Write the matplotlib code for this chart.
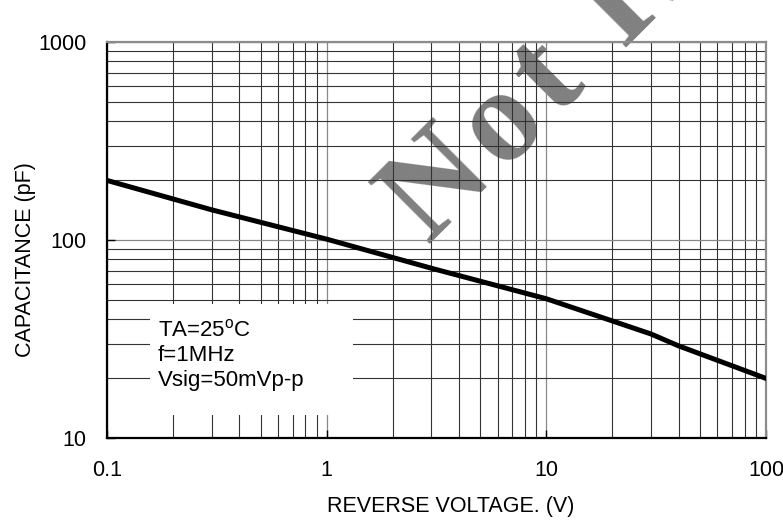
import numpy as np
import matplotlib
matplotlib.use('Agg')
import matplotlib.pyplot as plt
from matplotlib.patches import Rectangle
from matplotlib.ticker import LogLocator, FixedLocator, NullFormatter
from matplotlib.font_manager import FontProperties, findfont, get_font

plt.rcParams['font.family'] = ['Liberation Sans', 'DejaVu Sans']
plt.rcParams['mathtext.fontset'] = 'custom'
plt.rcParams['mathtext.rm'] = 'Liberation Sans'

# curve (reverse voltage in V, capacitance in pF)
voltage = [0.1, 0.3, 1, 3, 10, 20, 30, 40, 100]
capacitance = [200, 142, 101, 72, 50.5, 39.0, 33.5, 29.2, 20]

x_ticks = [0.1, 1, 10, 100]
x_labels = ['0.1', '1', '10', '100']
y_ticks = [10, 100, 1000]
y_labels = ['10', '100', '1000']

notes = ['TA=25$^{\\mathrm{o}}$C', 'f=1MHz', 'Vsig=50mVp-p']
watermark = 'Not Recommended'

W, H, DPI = 783, 524, 100
fig = plt.figure(figsize=(W / DPI, H / DPI), dpi=DPI)
ax = fig.add_axes([0.1367, 0.1641, 0.8416, 0.7557])

ax.set_xscale('log')
ax.set_yscale('log')
ax.set_xlim(0.1, 100)
ax.set_ylim(10, 1000)

# grid
ax.xaxis.set_minor_locator(LogLocator(base=10, subs=range(2, 10)))
ax.yaxis.set_minor_locator(LogLocator(base=10, subs=range(2, 10)))
ax.xaxis.set_minor_formatter(NullFormatter())
ax.yaxis.set_minor_formatter(NullFormatter())
ax.grid(True, which='major', color='#888888', linewidth=0.9)
ax.grid(True, which='minor', color='#333333', linewidth=0.8)

ax.xaxis.set_major_locator(FixedLocator(x_ticks))
ax.yaxis.set_major_locator(FixedLocator(y_ticks))
ax.set_xticklabels(x_labels)
ax.set_yticklabels(y_labels)
ax.tick_params(which='major', direction='in', length=6, width=1, labelsize=15.5, color='black')
ax.tick_params(axis='x', which='major', pad=16)
ax.tick_params(axis='y', which='major', pad=15)
ax.tick_params(which='minor', length=0)

for side in ['left', 'bottom']:
    ax.spines[side].set_color('black')
    ax.spines[side].set_linewidth(1.6)
for side in ['top', 'right']:
    ax.spines[side].set_color('#8c8c8c')
    ax.spines[side].set_linewidth(1.6)

ax.plot(voltage, capacitance, color='black', linewidth=3.6, zorder=3)

# white box behind the test conditions
ax.add_patch(Rectangle((0.065, 0.058), 0.308, 0.28, transform=ax.transAxes,
                       facecolor='white', edgecolor='none', zorder=2.5))
for i, note in enumerate(notes):
    ax.text(0.077, 0.273 - i * 0.0635, note, transform=ax.transAxes,
            fontsize=16, ha='left', va='center', zorder=4)

fig.text(0.575, 0.033, 'REVERSE VOLTAGE. (V)', ha='center', va='center', fontsize=15.5)
fig.text(0.032, 0.504, 'CAPACITANCE (pF)', ha='center', va='center',
         rotation=90, fontsize=15.5)

# watermark, letter by letter (a bit more spaced out than the plain font), under the grid.
# letters that would start beyond the top edge are not drawn at all
wm_size = 96
wm_angle = 45
wm_track = 9  # extra px between letters
wm_prop = FontProperties(family='Liberation Serif', weight='bold')
ft = get_font(findfont(wm_prop))
ft.set_size(wm_size, DPI)
d = np.array([np.cos(np.radians(wm_angle)), np.sin(np.radians(wm_angle))])
pos = np.array([428.0, H - 244.0])
for ch in watermark:
    if pos[1] > H or pos[0] > W:
        break
    if ch != ' ':
        ax.text(pos[0] / W, pos[1] / H, ch, transform=fig.transFigure,
                rotation=wm_angle, rotation_mode='anchor', ha='left', va='baseline',
                fontsize=wm_size, fontproperties=wm_prop, color='#808080',
                zorder=1, clip_on=False)
    glyph = ft.load_char(ord(ch))
    pos = pos + d * (glyph.linearHoriAdvance / 65536 + wm_track)

fig.savefig('out.png', dpi=DPI)
